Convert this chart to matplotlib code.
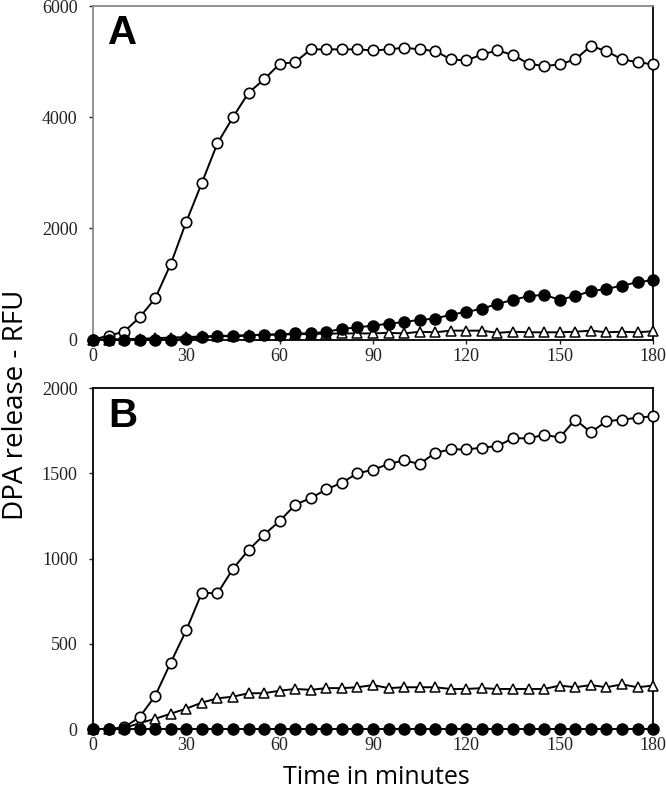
import matplotlib
matplotlib.use('Agg')
import matplotlib.pyplot as plt

# time points (minutes)
time_min = [0, 5, 10, 15, 20, 25, 30, 35, 40, 45, 50, 55, 60, 65, 70, 75, 80, 85, 90,
            95, 100, 105, 110, 115, 120, 125, 130, 135, 140, 145, 150, 155, 160, 165,
            170, 175, 180]

# panel A
a_open = [0, 70, 140, 400, 740, 1360, 2120, 2820, 3530, 4000, 4440, 4680, 4960, 4990,
          5220, 5220, 5220, 5220, 5200, 5220, 5250, 5220, 5190, 5040, 5020, 5130, 5200,
          5120, 4960, 4920, 4950, 5040, 5280, 5190, 5040, 4990, 4950]
a_filled = [0, 0, 0, 0, 0, 0, 10, 40, 60, 60, 70, 90, 90, 110, 110, 140, 190, 220, 250,
            285, 315, 355, 375, 450, 495, 555, 640, 715, 780, 805, 715, 785, 870, 910,
            970, 1030, 1070]
a_tri = [0, 0, 5, 15, 25, 35, 45, 55, 65, 70, 80, 85, 90, 95, 100, 105, 110, 110, 110,
         120, 110, 140, 130, 160, 160, 160, 120, 140, 130, 130, 130, 140, 160, 130, 140,
         130, 150]

# panel B
b_open = [0, 0, 10, 70, 195, 390, 580, 800, 795, 940, 1050, 1140, 1220, 1315, 1355, 1405,
          1445, 1500, 1520, 1555, 1575, 1555, 1620, 1640, 1640, 1650, 1660, 1705, 1705,
          1725, 1710, 1815, 1740, 1805, 1815, 1825, 1835]
b_filled = [0] * 37
b_tri = [0, 0, 5, 35, 60, 90, 120, 155, 180, 190, 210, 210, 225, 235, 230, 240, 240, 245,
         258, 240, 245, 245, 245, 235, 235, 240, 235, 235, 235, 235, 255, 245, 258, 245,
         262, 245, 255]

x_ticks = [0, 30, 60, 90, 120, 150, 180]
a_yticks = [0, 2000, 4000, 6000]
b_yticks = [0, 500, 1000, 1500, 2000]

fig = plt.figure(figsize=(6.66, 7.92), dpi=100)
ax_a = fig.add_axes([0.1396, 0.5713, 0.841, 0.4211])
ax_b = fig.add_axes([0.1396, 0.0795, 0.841, 0.4306])

tick_font = {'family': 'Liberation Serif', 'size': 13}


def draw_panel(ax, filled, tri, opn, ylim, yticks, letter, spine_col):
    ax.plot(time_min, tri, '-', color='black', lw=1.4, marker='^', ms=6.5,
            mfc='white', mec='black', mew=1.1, clip_on=False, zorder=3)
    ax.plot(time_min, opn, '-', color='black', lw=1.4, marker='o', ms=7.5,
            mfc='white', mec='black', mew=1.2, clip_on=False, zorder=4)
    ax.plot(time_min, filled, '-', color='black', lw=1.4, marker='o', ms=8,
            mfc='black', mec='black', clip_on=False, zorder=5)
    ax.set_xlim(0, 180)
    ax.set_ylim(*ylim)
    ax.set_xticks(x_ticks)
    ax.set_yticks(yticks)
    ax.set_xticklabels([str(t) for t in x_ticks], fontdict=tick_font)
    ax.set_yticklabels([str(t) for t in yticks], fontdict=tick_font)
    ax.tick_params(direction='out', length=3, width=1, colors='#222222')
    ax.tick_params(axis='y', pad=8)
    ax.tick_params(axis='x', pad=3)
    for side in ['top', 'left']:
        ax.spines[side].set_color(spine_col)
    for side in ['top', 'left', 'right', 'bottom']:
        ax.spines[side].set_linewidth(1.3)
    ax.spines['right'].set_color('black')
    ax.text(0.027, 0.975, letter, transform=ax.transAxes, ha='left', va='top',
            fontsize=29, fontweight='bold', family='Liberation Sans')


draw_panel(ax_a, a_filled, a_tri, a_open, (0, 6000), a_yticks, 'A', '#8a8a8a')
draw_panel(ax_b, b_filled, b_tri, b_open, (0, 2000), b_yticks, 'B', 'black')

fig.text(0.024, 0.489, 'DPA release - RFU', rotation=90, ha='center', va='center',
         fontsize=20, family='Open Sans')
fig.text(0.565, 0.018, 'Time in minutes', ha='center', va='center',
         fontsize=18, family='Open Sans')

fig.savefig('out.png', dpi=100)
